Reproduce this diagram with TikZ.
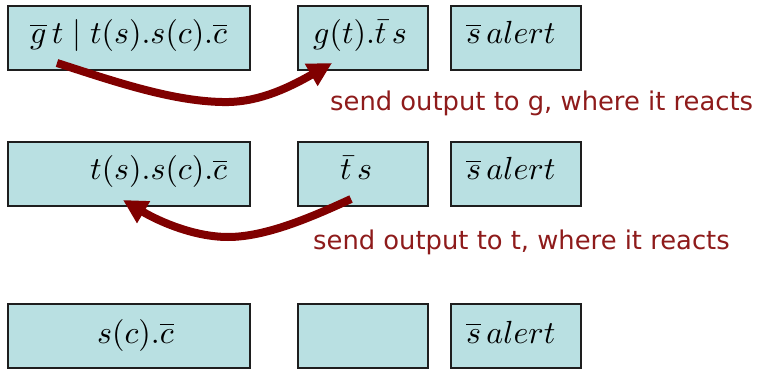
\documentclass[tikz,border=0pt]{standalone}
\usepackage{graphicx}
\usepackage{fontspec}
\usetikzlibrary{arrows.meta}
\newfontfamily\notefont{DejaVu Sans}
\definecolor{boxfill}{HTML}{B9E0E2}
\definecolor{boxline}{HTML}{1E1E1E}
\definecolor{flow}{HTML}{800000}
\definecolor{notered}{HTML}{8E1B1B}
\newcommand{\procterm}[1]{\scalebox{3.2}{$#1$}}
\tikzset{
  procbox/.style={draw=boxline, line width=1.6pt, fill=boxfill, inner sep=0pt, anchor=north west},
  wide/.style={procbox, minimum width=242pt, minimum height=64pt},
  narrow/.style={procbox, minimum width=130pt, minimum height=64pt},
  term/.style={inner sep=0pt, anchor=base west},
  note/.style={inner sep=0pt, anchor=base west, text=notered, font=\notefont\fontsize{25.8}{30}\selectfont},
  send/.style={draw=flow, line width=8pt, -{Triangle[length=24pt, width=24pt]}}
}
\begin{document}
\begin{tikzpicture}[x=1pt, y=-1pt]
  \useasboundingbox (0,0) rectangle (757,371);

  % first state
  \node[wide]   (a1) at (7,5) {};
  \node[narrow] (b1) at (297,5) {};
  \node[narrow] (c1) at (450,5) {};
  \node[term] (ta1) at (30,44)  {\procterm{\overline{g}\,t \mid t(s).s(c).\overline{c}}};
  \node[term] (tb1) at (313,44) {\procterm{g(t).\bar{t}\,s}};
  \node[term] (tc1) at (466,44) {\procterm{\overline{s}\,alert}};

  % second state
  \node[wide]   (a2) at (7,141) {};
  \node[narrow] (b2) at (297,141) {};
  \node[narrow] (c2) at (450,141) {};
  \node[term] (ta2) at (90,180)  {\procterm{t(s).s(c).\overline{c}}};
  \node[term] (tb2) at (340,180) {\procterm{\bar{t}\,s}};
  \node[term] (tc2) at (466,180) {\procterm{\overline{s}\,alert}};

  % third state
  \node[wide]   (a3) at (7,303) {};
  \node[narrow] (b3) at (297,303) {};
  \node[narrow] (c3) at (450,303) {};
  \node[term] (ta3) at (97,343)  {\procterm{s(c).\overline{c}}};
  \node[term] (tc3) at (466,343) {\procterm{\overline{s}\,alert}};

  % explanations
  \node[note] (n1) at (330,111) {send output to g, where it reacts};
  \node[note] (n2) at (313,250) {send output to t, where it reacts};

  % message flows
  \coordinate (out1) at (57,63);
  \coordinate (in1)  at (332,63);
  \coordinate (out2) at (351,199);
  \coordinate (in2)  at (123,200);
  \draw[send] (out1) .. controls (110,80) and (170,101) .. (222,102)
                     .. controls (255,103) and (285,90) .. (in1);
  \draw[send] (out2) .. controls (310,218) and (265,237) .. (228,237)
                     .. controls (195,237) and (160,222) .. (in2);
\end{tikzpicture}
\end{document}
